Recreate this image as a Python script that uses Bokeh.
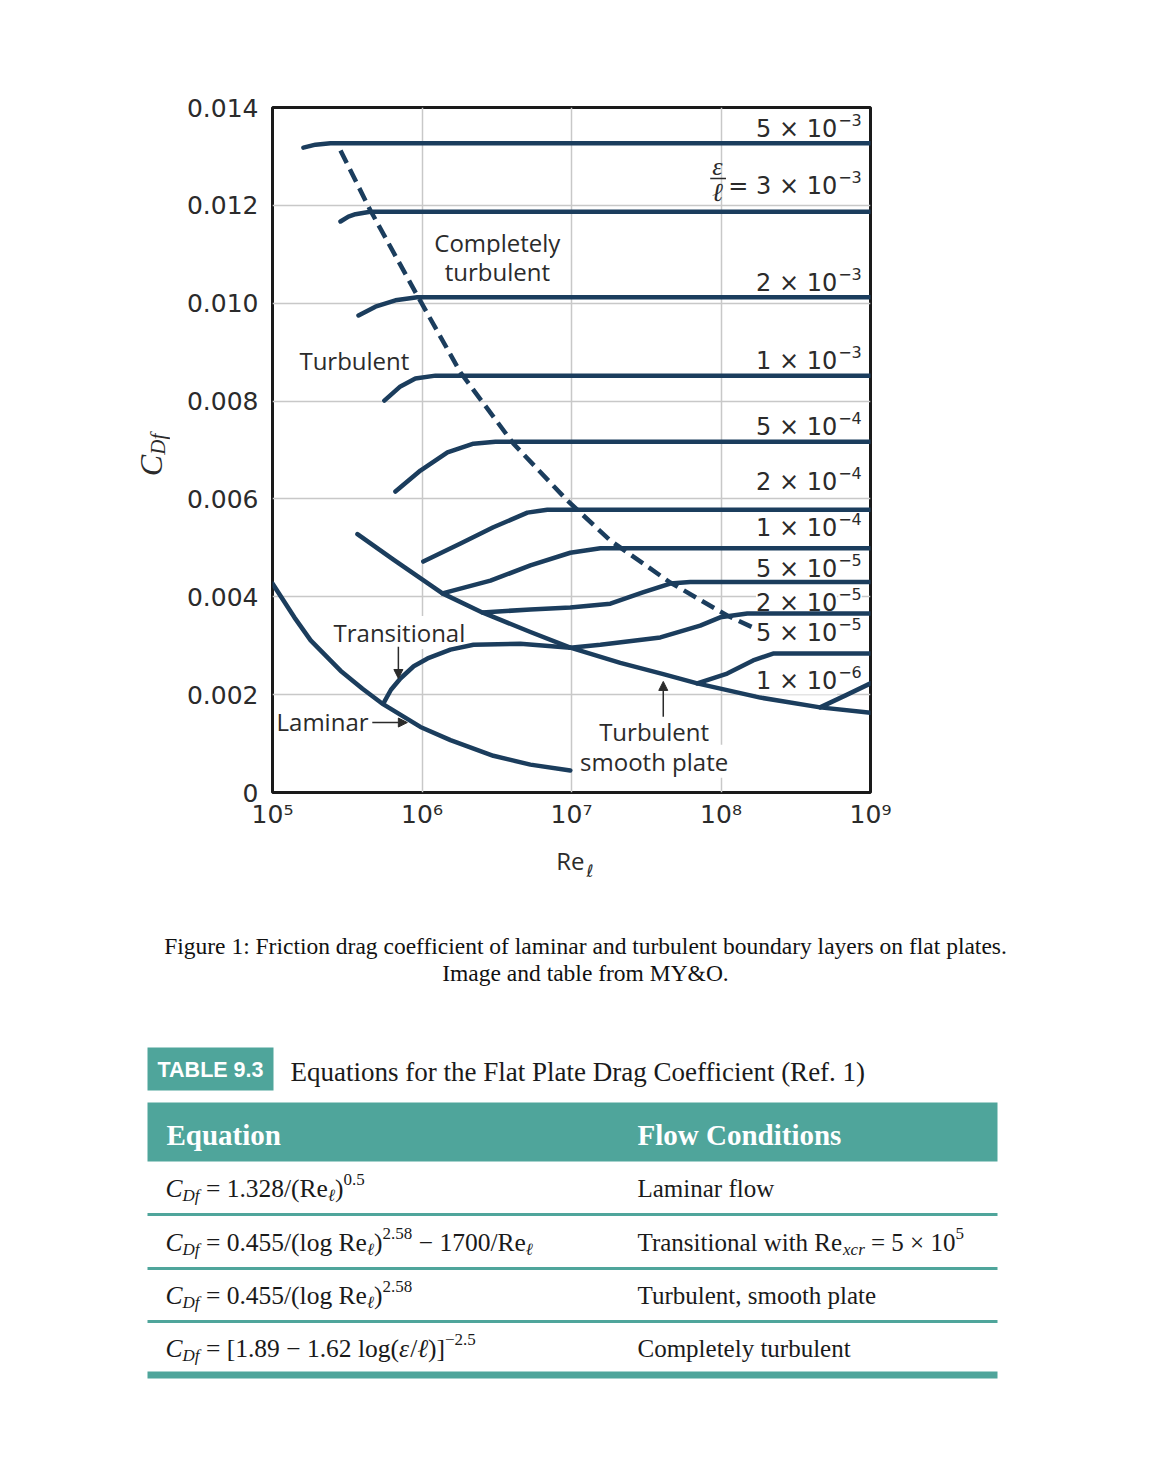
import math
from bokeh.plotting import figure
from bokeh.layouts import row
from bokeh.models import Range1d, FixedTicker, Arrow, NormalHead
from bokeh.core.properties import value
from bokeh.embed import file_html
from bokeh.resources import INLINE

NAVY = "#1b3d5d"
INK = "#2b2b2b"
TEAL = "#4fa59b"
GRID = "#c8c8c8"

# ---------------- axes ----------------
x_ticks = [1e5, 1e6, 1e7, 1e8, 1e9]
x_tick_labels = ["10⁵", "10⁶", "10⁷", "10⁸", "10⁹"]
y_ticks = [0.0, 0.002, 0.004, 0.006, 0.008, 0.010, 0.012, 0.014]
y_tick_labels = ["0", "0.002", "0.004", "0.006", "0.008", "0.010", "0.012", "0.014"]
y_title = ["C", "Df"]
x_title = ["Re", "ℓ"]

# ---------------- curves (Re, C_Df) ----------------
laminar_re = [1.0e5, 1.4e5, 1.8e5, 2.85e5, 4.0e5, 5.52e5, 9.76e5, 1.55e6, 3.0e6, 5.31e6, 9.82e6]
laminar_cd = [0.00427, 0.00358, 0.00311, 0.00249, 0.00212, 0.00180, 0.00134, 0.00107, 0.00075, 0.00057, 0.00045]

transitional_re = [5.52e5, 6.2e5, 7.17e5, 8.8e5, 1.09e6, 1.55e6, 2.21e6, 4.55e6, 9.82e6]
transitional_cd = [0.00182, 0.00210, 0.00233, 0.00258, 0.00274, 0.00292, 0.00302, 0.00304, 0.00296]

smooth_re = [3.7e5, 6.44e5, 1.37e6, 2.53e6, 5.31e6, 9.82e6, 2.12e7, 4.11e7, 6.93e7, 1.83e8, 4.6e8, 1e9]
smooth_cd = [0.00528, 0.00476, 0.00407, 0.00368, 0.00328, 0.00296, 0.00265, 0.00242, 0.00223, 0.00194, 0.00174, 0.00163]

r5e3_re = [1.61e5, 1.94e5, 2.44e5, 1e9]
r5e3_cd = [0.01318, 0.01324, 0.01327, 0.01327]
r3e3_re = [2.85e5, 3.22e5, 3.59e5, 4.5e5, 1e9]
r3e3_cd = [0.01167, 0.01177, 0.01182, 0.01187, 0.01187]
r2e3_re = [3.76e5, 4.88e5, 6.64e5, 9.3e5, 1e9]
r2e3_cd = [0.00975, 0.00993, 0.01006, 0.01012, 0.01012]
r1e3_re = [5.6e5, 7.17e5, 9.03e5, 1.23e6, 1e9]
r1e3_cd = [0.00801, 0.00830, 0.00846, 0.00852, 0.00852]
r5e4_re = [6.64e5, 9.76e5, 1.48e6, 2.21e6, 3.1e6, 1e9]
r5e4_cd = [0.00615, 0.00658, 0.00695, 0.00713, 0.00717, 0.00717]
r2e4_re = [1.02e6, 1.81e6, 3.0e6, 5.07e6, 6.89e6, 1e9]
r2e4_cd = [0.00472, 0.00509, 0.00542, 0.00572, 0.00578, 0.00578]
r1e4_re = [1.37e6, 2.87e6, 5.31e6, 9.82e6, 1.56e7, 1e9]
r1e4_cd = [0.00407, 0.00433, 0.00464, 0.00490, 0.00499, 0.00499]
r5e5_re = [2.53e6, 5.31e6, 9.82e6, 1.82e7, 3.0e7, 4.57e7, 6.22e7, 1e9]
r5e5_cd = [0.00368, 0.00374, 0.00378, 0.00386, 0.00409, 0.00427, 0.00430, 0.00430]
r2e5_re = [9.82e6, 1.56e7, 3.93e7, 7.26e7, 9.88e7, 1.5e8, 1e9]
r2e5_cd = [0.00296, 0.00302, 0.00317, 0.00341, 0.00358, 0.00366, 0.00366]
r5e6_re = [6.93e7, 1.1e8, 1.64e8, 2.23e8, 1e9]
r5e6_cd = [0.00223, 0.00243, 0.00270, 0.00284, 0.00284]
r1e6_re = [4.6e8, 6.76e8, 1e9]
r1e6_cd = [0.00174, 0.00198, 0.00223]

dashed_re = [2.85e5, 4.52e5, 9.3e5, 1.81e6, 4.08e6, 9.37e6, 1.82e7, 4.57e7, 1.10e8, 1.69e8]
dashed_cd = [0.01312, 0.011895, 0.010157, 0.008584, 0.007133, 0.005968, 0.00515, 0.004292, 0.003617, 0.003352]

# ---------------- annotations ----------------
word_labels = ["Completely", "turbulent", "Turbulent", "Transitional", "Turbulent", "smooth plate"]
word_re = [3.19e6, 3.19e6, 3.53e5, 7.06e5, 3.57e7, 3.57e7]
word_cd = [0.01124, 0.01065, 0.00883, 0.00327, 0.00125, 0.00064]
laminar_label = "Laminar"
laminar_label_re = 1.064e5
laminar_label_cd = 0.00145

rough_label_base = ["5 × 10", "2 × 10", "1 × 10", "5 × 10", "2 × 10",
                    "1 × 10", "5 × 10", "2 × 10", "5 × 10"]
rough_label_exp = ["−3", "−3", "−3", "−4", "−4", "−4", "−5", "−5", "−5"]
rough_label_cd = [0.01357, 0.010423, 0.008829, 0.00746, 0.006336,
                  0.005416, 0.004578, 0.003883, 0.00325]
rough_label_re = 8.8e8
eq_label_base = "= 3 × 10"
eq_label_exp = "−3"
eq_label_cd = 0.012405
last_label_base = "1 × 10"
last_label_exp = "−6"
last_label_cd = 0.002289

frac_re = 9.45e7
frac_top_cd = 0.012794
frac_bot_cd = 0.012262
frac_bar_re = [8.47e7, 1.08e8]
frac_bar_cd = 0.012549

arrows = [  # x_start, y_start, x_end, y_end
    (6.95e5, 0.00298, 6.95e5, 0.00233),
    (4.65e5, 0.00143, 7.98e5, 0.00143),
    (4.11e7, 0.00155, 4.11e7, 0.00227),
]

# ---------------- layout constants (page pixels) ----------------
H1 = 832          # height of the chart row
TOP, BOTTOM = 107, H1 - 792
WL = 170          # width of the strip that holds the y title


def ptext(fig, xs, ys, texts, font="Open Sans", size="24px", style="normal",
          align="center", color=INK, bg=None, dx=0, dy=0, angle=0):
    return fig.text(x=xs, y=ys, text=texts, text_font=value(font),
                    text_font_size=value(size), text_font_style=style,
                    text_align=align, text_baseline="middle", text_color=color,
                    background_fill_color=bg, x_offset=dx, y_offset=dy, angle=angle)


# ---------------- y-title strip ----------------
lf = figure(width=WL, height=H1, x_range=Range1d(0, WL), y_range=Range1d(0, 0.014),
            output_backend="svg", toolbar_location=None,
            x_axis_location=None, y_axis_location=None,
            min_border_left=0, min_border_right=0,
            min_border_top=TOP, min_border_bottom=BOTTOM)
lf.grid.visible = False
lf.outline_line_color = None
ptext(lf, [150], [0.00668], [y_title[0]], font="Liberation Serif", size="32px",
      style="italic", angle=math.pi / 2)
ptext(lf, [157], [0.00712], [y_title[1]], font="Liberation Serif", size="21px",
      style="italic", angle=math.pi / 2)

# ---------------- chart figure ----------------
p = figure(width=1162 - WL, height=H1, x_axis_type="log",
           x_range=Range1d(1e5, 1e9), y_range=Range1d(0, 0.014),
           output_backend="svg", toolbar_location=None,
           min_border_left=272 - WL, min_border_right=292,
           min_border_top=TOP, min_border_bottom=BOTTOM)
p.outline_line_color = "#1a1a1a"
p.outline_line_width = 3

p.xaxis.ticker = FixedTicker(ticks=x_ticks)
p.yaxis.ticker = FixedTicker(ticks=y_ticks)
p.xaxis.major_label_overrides = dict(zip(x_ticks, x_tick_labels))
p.yaxis.major_label_overrides = dict(zip(y_ticks, y_tick_labels))
for ax in (p.xaxis[0], p.yaxis[0]):
    ax.axis_line_color = None
    ax.major_tick_line_color = None
    ax.minor_tick_line_color = None
    ax.major_tick_out = 0
    ax.major_tick_in = 0
    ax.minor_tick_out = 0
    ax.major_label_text_font = "DejaVu Sans"
    ax.major_label_text_font_size = "25px"
    ax.major_label_text_color = INK
p.yaxis.major_label_standoff = 14
p.xaxis.major_label_standoff = 7
p.xgrid.grid_line_color = GRID
p.ygrid.grid_line_color = GRID
p.xgrid.grid_line_width = 1.5
p.ygrid.grid_line_width = 1.5


def rough_label(xs, ys, bases, exps, bg):
    ptext(p, xs, ys, bases, font="DejaVu Sans", align="right", bg=bg, dx=-25)
    ptext(p, xs, ys, exps, font="DejaVu Sans", size="16px", align="left", bg=bg, dx=-24, dy=-9)


# texts first (white boxes hide grid lines), curves on top
ptext(p, word_re, word_cd, word_labels, bg="white")
ptext(p, [laminar_label_re], [laminar_label_cd], [laminar_label], align="left", bg="white")
rough_label([rough_label_re] * len(rough_label_base), rough_label_cd,
            rough_label_base, rough_label_exp, "white")
rough_label([rough_label_re], [eq_label_cd], [eq_label_base], [eq_label_exp], None)
ptext(p, [frac_re], [frac_top_cd], ["ε"], font="Liberation Serif", size="26px", style="italic")
ptext(p, [frac_re], [frac_bot_cd], ["ℓ"], font="Liberation Serif", size="26px", style="italic")
p.line(frac_bar_re, [frac_bar_cd, frac_bar_cd], line_color=INK, line_width=1.5)

lw = 4.5
for xs, ys in [(laminar_re, laminar_cd), (transitional_re, transitional_cd),
               (r5e3_re, r5e3_cd), (r3e3_re, r3e3_cd), (r2e3_re, r2e3_cd),
               (r1e3_re, r1e3_cd), (r5e4_re, r5e4_cd), (r2e4_re, r2e4_cd),
               (r1e4_re, r1e4_cd), (r5e5_re, r5e5_cd), (r2e5_re, r2e5_cd),
               (r5e6_re, r5e6_cd)]:
    p.line(xs, ys, line_color=NAVY, line_width=lw, line_cap="round", line_join="round")

rough_label([rough_label_re], [last_label_cd], [last_label_base], [last_label_exp], "white")

for xs, ys in [(r1e6_re, r1e6_cd), (smooth_re, smooth_cd)]:
    p.line(xs, ys, line_color=NAVY, line_width=lw, line_cap="round", line_join="round")

p.line(dashed_re, dashed_cd, line_color=NAVY, line_width=lw, line_dash="14 7")

for xs0, ys0, xs1, ys1 in arrows:
    p.add_layout(Arrow(end=NormalHead(size=9, fill_color=INK, line_color=INK),
                       x_start=xs0, y_start=ys0, x_end=xs1, y_end=ys1,
                       line_color=INK, line_width=1.5))

# ---------------- caption + table figure (page pixel coordinates) ----------------
caption_lines = ["Figure 1: Friction drag coefficient of laminar and turbulent boundary layers on flat plates.",
                 "Image and table from MY&O."]
table_tag = "TABLE 9.3"
table_title = "Equations for the Flat Plate Drag Coefficient (Ref. 1)"
header_labels = ["Equation", "Flow Conditions"]

eq_rows = [
    [("C", "italic", "b"), ("Df", "italic", "sub"), (" = 1.328/(Re", "normal", "b"),
     ("ℓ", "italic", "sub"), (")", "normal", "b"), ("0.5", "normal", "sup")],
    [("C", "italic", "b"), ("Df", "italic", "sub"), (" = 0.455/(log Re", "normal", "b"),
     ("ℓ", "italic", "sub"), (")", "normal", "b"), ("2.58", "normal", "sup"),
     (" − 1700/Re", "normal", "b"), ("ℓ", "italic", "sub")],
    [("C", "italic", "b"), ("Df", "italic", "sub"), (" = 0.455/(log Re", "normal", "b"),
     ("ℓ", "italic", "sub"), (")", "normal", "b"), ("2.58", "normal", "sup")],
    [("C", "italic", "b"), ("Df", "italic", "sub"), (" = [1.89 − 1.62 log(", "normal", "b"),
     ("ε", "italic", "b"), ("/", "normal", "b"), ("ℓ", "italic", "b"),
     (")]", "normal", "b"), ("−2.5", "normal", "sup")],
]
cond_rows = [
    [("Laminar flow", "normal", "b")],
    [("Transitional with Re", "normal", "b"), ("xcr", "italic", "sub"),
     (" = 5 × 10", "normal", "b"), ("5", "normal", "sup")],
    [("Turbulent, smooth plate", "normal", "b")],
    [("Completely turbulent", "normal", "b")],
]

H2 = 620
q = figure(width=1170, height=H2, x_range=Range1d(0, 1170), y_range=Range1d(H1 + H2, H1),
           output_backend="svg", toolbar_location=None,
           x_axis_location=None, y_axis_location=None, min_border=0)
q.grid.visible = False
q.outline_line_color = None

# x-axis title of the chart
ptext(q, [584], [860], [x_title[0]], align="right")
ptext(q, [586], [870], [x_title[1]], font="DejaVu Sans", size="17px", style="italic", align="left")

ptext(q, [585, 585], [945, 972], caption_lines, font="Liberation Serif", size="23.5px", color="#111111")
q.quad(left=[147], right=[273], top=[1047], bottom=[1090], fill_color=TEAL, line_color=None)
ptext(q, [210], [1069], [table_tag], font="Liberation Sans", size="21.5px", style="bold", color="white")
ptext(q, [290], [1071], [table_title], font="Liberation Serif", size="27px", align="left", color="#1a1a1a")
q.quad(left=[147], right=[997], top=[1102], bottom=[1161], fill_color=TEAL, line_color=None)
ptext(q, [166, 637], [1134, 1134], header_labels, font="Liberation Serif", size="29px",
      style="bold", align="left", color="white")
sep_y = [1214, 1268, 1321]
q.segment(x0=[147] * 3, x1=[997] * 3, y0=sep_y, y1=sep_y, line_color=TEAL, line_width=3)
q.quad(left=[147], right=[997], top=[1371], bottom=[1378], fill_color=TEAL, line_color=None)

W_REG = {' ': .25, '.': .25, ',': .25, '/': .278, '(': .333, ')': .333, '[': .333, ']': .333,
         '=': .564, '−': .564, '×': .564, 'R': .667, 'e': .444, 'l': .278, 'o': .5, 'g': .5,
         'T': .611, 'r': .333, 'a': .444, 'n': .5, 's': .389, 'i': .278, 't': .278, 'w': .722,
         'h': .5, 'L': .611, 'm': .778, 'f': .333, 'C': .667, 'u': .5, 'b': .5, 'p': .5, 'y': .5}
W_IT = {'C': .667, 'D': .722, 'f': .278, 'x': .444, 'c': .444, 'r': .389, 'ε': .44, 'ℓ': .42}


def twidth(s, style, size):
    tab = W_IT if style == "italic" else W_REG
    return sum(tab.get(ch, W_REG.get(ch, .5)) for ch in s) * size


def draw_pieces(fig, x0, yc, pieces, base=25.5):
    groups = {}
    x = x0
    for t, style, shift in pieces:
        size = base if shift == "b" else round(base * 0.68)
        dyy = {"b": 0, "sub": 7, "sup": -9}[shift]
        lead = len(t) - len(t.lstrip(' '))
        trail = len(t) - len(t.rstrip(' '))
        core = t.strip(' ')
        x += lead * 0.25 * size
        groups.setdefault((style, size), []).append((x, yc + dyy, core))
        x += twidth(core, style, size) + trail * 0.25 * size
    for (style, size), items in groups.items():
        ptext(fig, [i[0] for i in items], [i[1] for i in items], [i[2] for i in items],
              font="Liberation Serif", size=f"{size}px", style=style, align="left",
              color="#1a1a1a")


row_y = [1188, 1242, 1295, 1348]
for yc, eq, cond in zip(row_y, eq_rows, cond_rows):
    draw_pieces(q, 165, yc, eq)
    draw_pieces(q, 637, yc, cond, base=25)

open("out.html", "w").write(file_html([row(lf, p), q], INLINE))
